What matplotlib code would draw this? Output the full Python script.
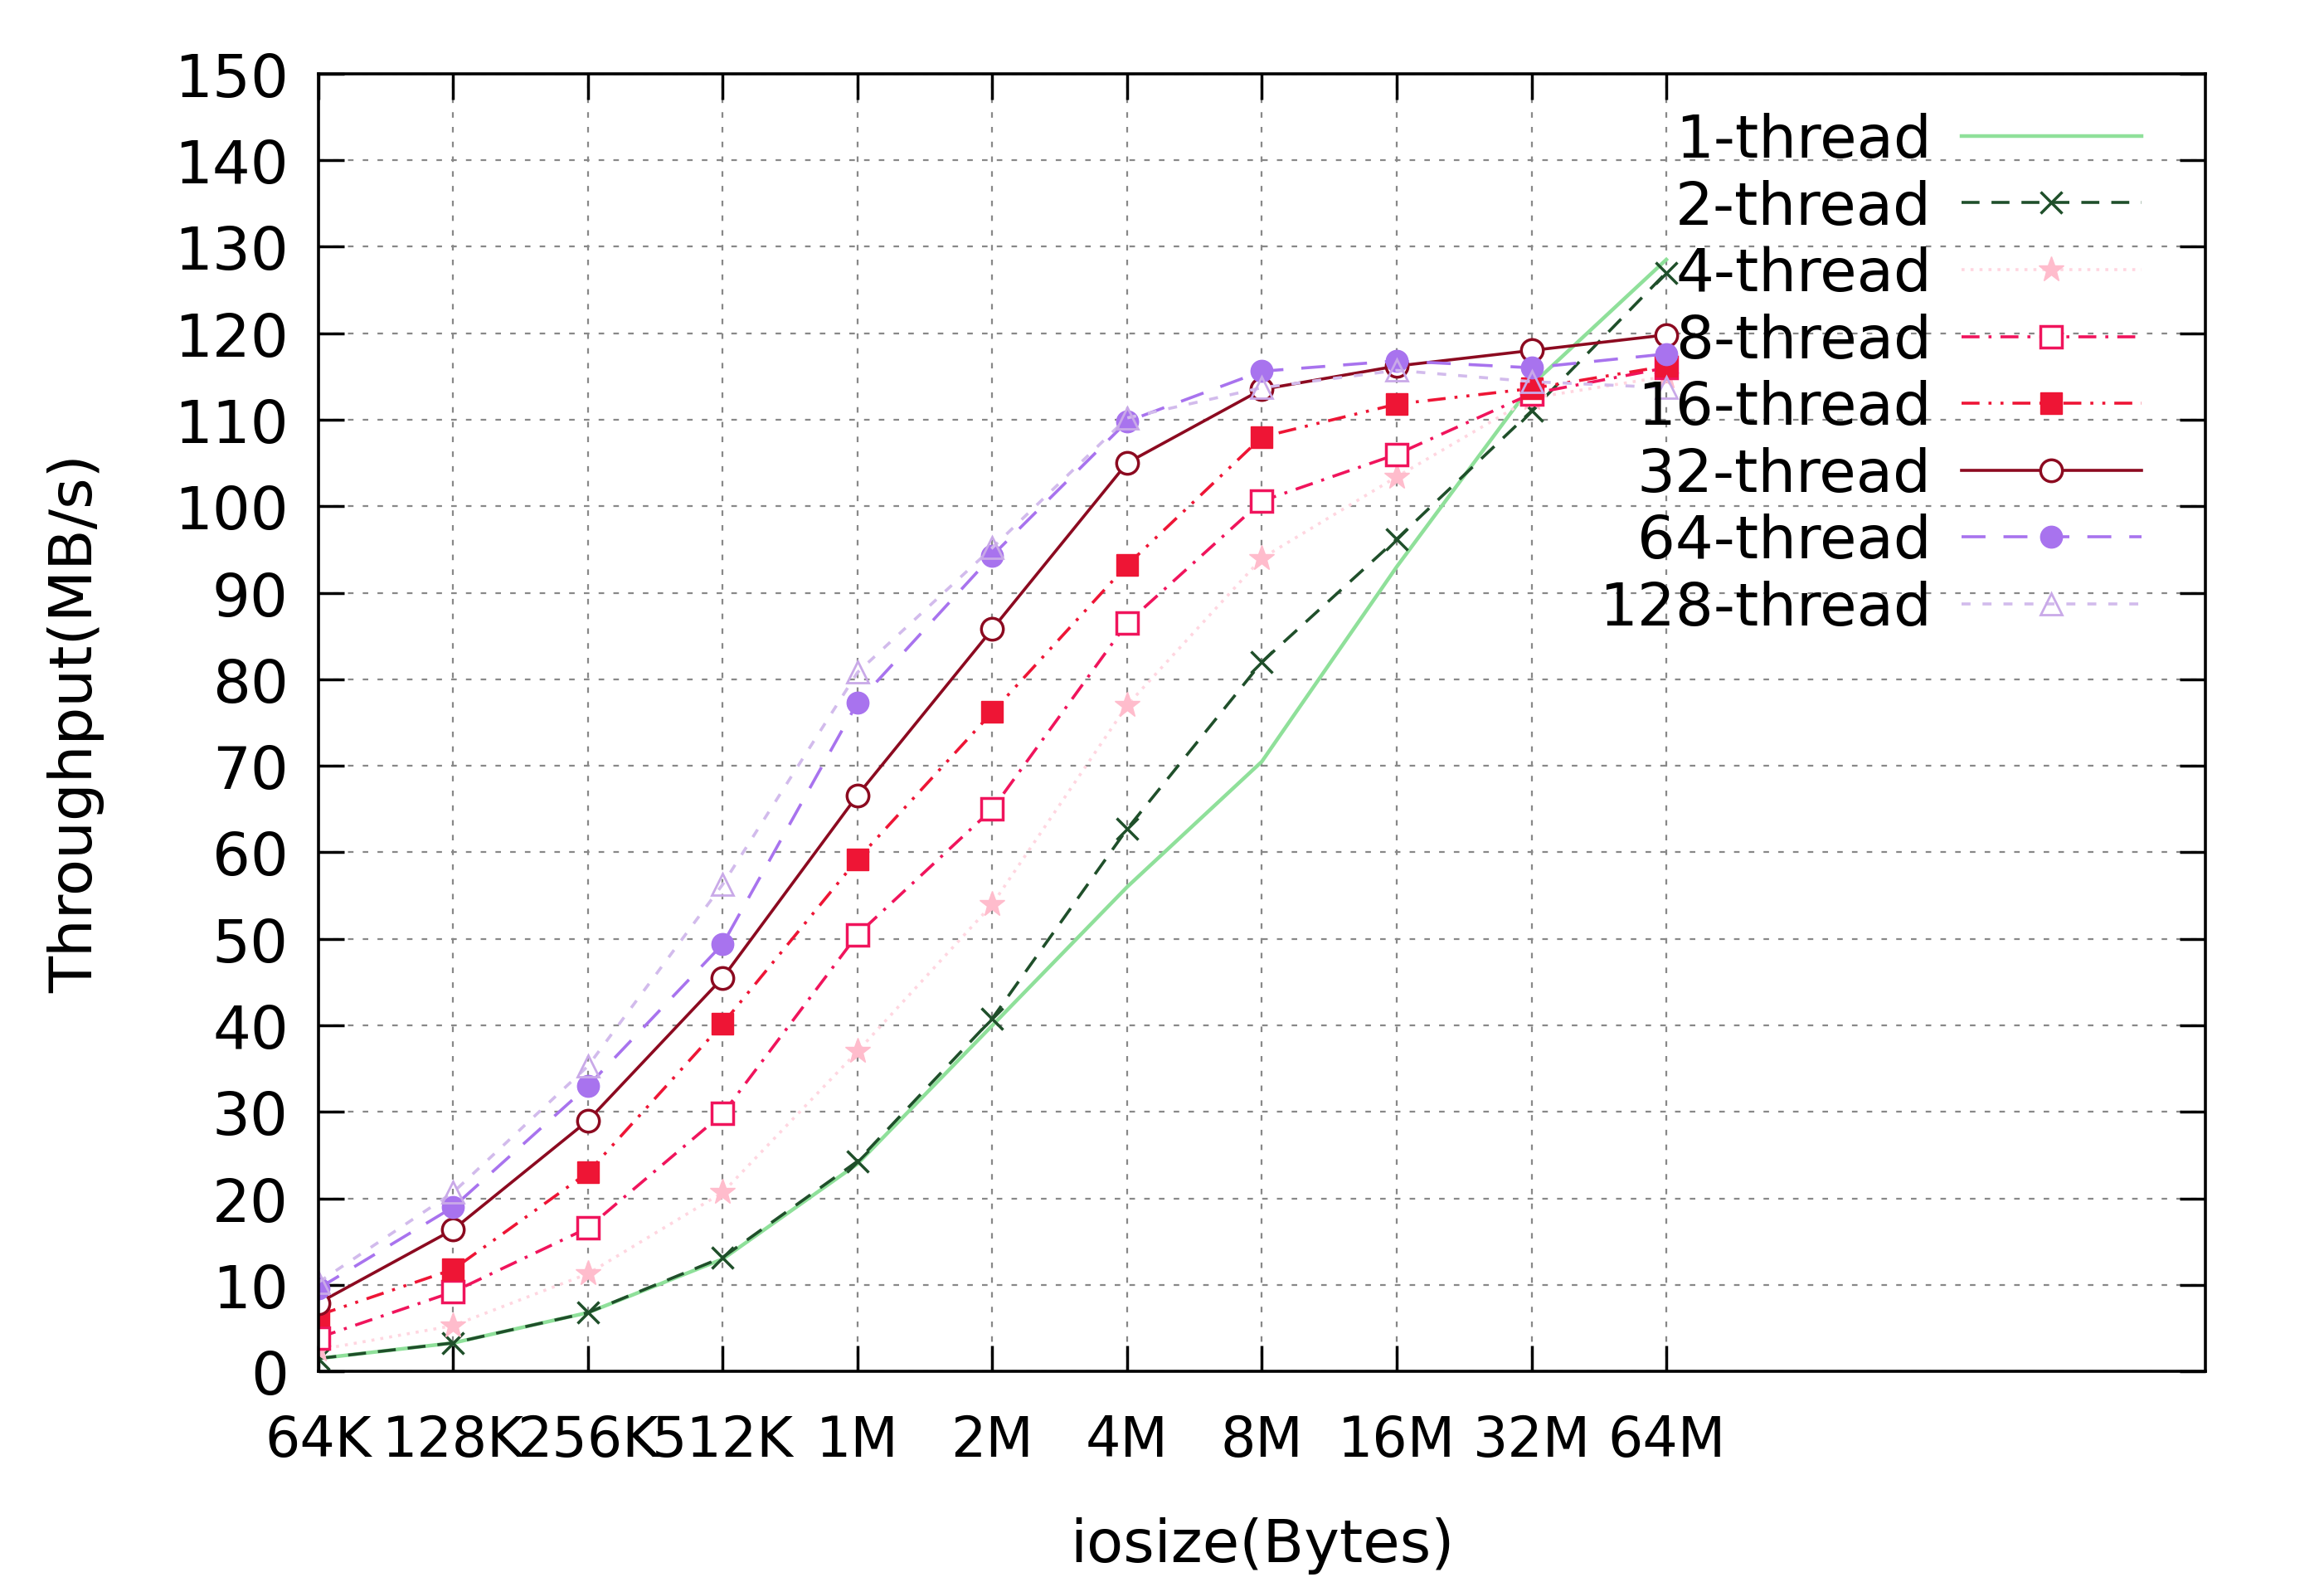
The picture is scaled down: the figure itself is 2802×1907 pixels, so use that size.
import numpy as np
import matplotlib
matplotlib.use("Agg")
import matplotlib.pyplot as plt

# iosize categories (log2 steps)
sizes = ['64K', '128K', '256K', '512K', '1M', '2M', '4M', '8M', '16M', '32M', '64M']

# throughput in MB/s
t1   = [1.5, 3.3, 6.8, 13.0, 24.0, 40.0, 56.0, 70.5, 93.0, 114.0, 128.5]
t2   = [1.5, 3.3, 6.8, 13.2, 24.3, 40.8, 62.7, 82.0, 96.2, 111.0, 127.0]
t4   = [2.5, 5.3, 11.3, 20.7, 37.0, 54.0, 77.0, 94.0, 103.4, 112.5, 115.0]
t8   = [3.9, 9.2, 16.6, 29.8, 50.5, 65.0, 86.5, 100.6, 106.0, 113.0, 116.0]
t16  = [6.5, 11.8, 23.0, 40.2, 59.2, 76.2, 93.2, 108.0, 111.8, 113.6, 116.2]
t32  = [7.9, 16.4, 29.0, 45.5, 66.6, 85.8, 105.0, 113.5, 116.2, 118.0, 119.8]
t64  = [9.6, 19.0, 33.0, 49.4, 77.3, 94.3, 109.8, 115.6, 116.8, 116.0, 117.6]
t128 = [10.3, 20.7, 35.3, 56.3, 80.8, 95.2, 110.2, 113.7, 115.7, 114.4, 113.7]

labels = ['1-thread', '2-thread', '4-thread', '8-thread',
          '16-thread', '32-thread', '64-thread', '128-thread']

x = np.arange(len(sizes))

fig = plt.figure(figsize=(28.02, 19.08), dpi=100)
ax = fig.add_axes([0.137, 0.133, 0.812, 0.820])

fs = 52
lw = 2.6
ms = 19

ax.plot(x, t1, color='#8fe09a', lw=lw + 0.6, ls='-', label=labels[0])
ax.plot(x, t2, color='#1f4f2a', lw=lw, ls=(0, (6, 4)), marker='x',
        ms=ms, mew=2.5, label=labels[1])
ax.plot(x, t4, color='#ffd6e0', lw=lw, ls=(0, (1, 2)), marker='*',
        ms=ms + 4, mec='#ffbccc', mfc='#ffbccc', label=labels[2])
ax.plot(x, t8, color='#f0145c', lw=lw, ls=(0, (6, 3, 1, 3)), marker='s',
        ms=ms, mfc='white', mec='#f0145c', mew=2.5, label=labels[3])
ax.plot(x, t16, color='#ee1535', lw=lw, ls=(0, (6, 3, 1, 3, 1, 3)), marker='s',
        ms=ms, mfc='#ee1535', mec='#ee1535', label=labels[4])
ax.plot(x, t32, color='#8c0a20', lw=lw, ls='-', marker='o',
        ms=ms, mfc='white', mec='#8c0a20', mew=2.5, label=labels[5])
ax.plot(x, t64, color='#a873ee', lw=lw, ls=(0, (8, 6)), marker='o',
        ms=ms, mfc='#a873ee', mec='#a873ee', label=labels[6])
ax.plot(x, t128, color='#d2bbec', lw=lw, ls=(0, (3, 4)), marker='^',
        ms=ms, mfc='none', mec='#c9a9e8', mew=2.0, label=labels[7])

ax.set_xlim(0, 14)
ax.set_ylim(0, 150)
ax.set_xticks(x)
ax.set_xticklabels(sizes)
ax.set_yticks(np.arange(0, 151, 10))

ax.grid(True, color='#888888', ls=(0, (3, 5)), lw=1.6)
ax.tick_params(axis='both', direction='in', length=22, width=2.5,
               labelsize=fs, top=True, right=True)
ax.tick_params(axis='y', pad=26)
ax.tick_params(axis='x', pad=36, labelsize=48)
for sp in ax.spines.values():
    sp.set_linewidth(2.6)

ax.set_xlabel('iosize(Bytes)', fontsize=fs, labelpad=42)
ax.set_ylabel('Throughput(MB/s)', fontsize=fs, labelpad=60)

leg = ax.legend(loc='upper right', bbox_to_anchor=(0.985, 0.998),
                markerfirst=False, frameon=False, fontsize=fs,
                handlelength=3.0, labelspacing=0.16, handletextpad=0.5,
                borderaxespad=0.2)

fig.savefig('out.png', dpi=100, facecolor='white')
